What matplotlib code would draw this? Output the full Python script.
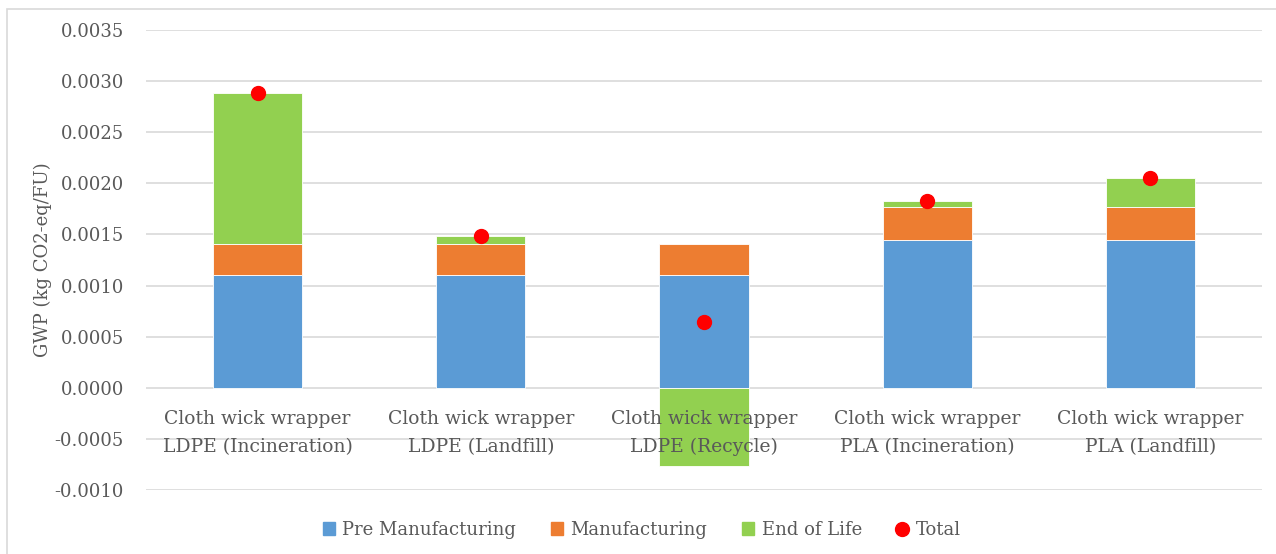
import numpy as np
import matplotlib.pyplot as plt
from matplotlib.patches import Patch, Rectangle
from matplotlib.lines import Line2D

categories = ['Cloth wick wrapper\nLDPE (Incineration)', 'Cloth wick wrapper\nLDPE (Landfill)',
              'Cloth wick wrapper\nLDPE (Recycle)', 'Cloth wick wrapper\nPLA (Incineration)',
              'Cloth wick wrapper\nPLA (Landfill)']
pre_manufacturing = [0.00110, 0.00110, 0.00110, 0.00145, 0.00145]
manufacturing = [0.00031, 0.00031, 0.00031, 0.00032, 0.00032]
end_of_life = [0.00147, 0.00007, -0.00077, 0.00006, 0.00028]
total = [0.00288, 0.00148, 0.00064, 0.00183, 0.00205]

plt.rcParams['font.family'] = ['DejaVu Serif']
txt = '#595959'
c_pre, c_man, c_eol, c_tot = '#5B9BD5', '#ED7D31', '#92D050', '#FF0000'

fig = plt.figure(figsize=(12.76, 5.54), dpi=100)
ax = fig.add_axes([146/1276, 64/554, 1116/1276, 460/554])

x = np.arange(len(categories))
w = 0.4
pre = np.array(pre_manufacturing)
man = np.array(manufacturing)
eol = np.array(end_of_life)
ax.bar(x, pre, w, color=c_pre, edgecolor='white', linewidth=0.6, zorder=2)
ax.bar(x, man, w, bottom=pre, color=c_man, edgecolor='white', linewidth=0.6, zorder=2)
# negative end of life values hang below zero
eol_bottom = np.where(eol >= 0, pre + man, 0)
ax.bar(x, eol, w, bottom=eol_bottom, color=c_eol, edgecolor='white', linewidth=0.6, zorder=2)
ax.plot(x, total, 'o', color=c_tot, markersize=10, zorder=4)

ax.set_xlim(-0.5, len(categories) - 0.5)
ax.set_ylim(-0.0010, 0.0035)
yt = np.arange(-0.0010, 0.00351, 0.0005)
ax.set_yticks(yt)
ax.set_yticklabels(['%.4f' % v for v in yt])
ax.grid(axis='y', color='#D9D9D9', linewidth=1.2, zorder=0)
for s in ax.spines.values():
    s.set_visible(False)
ax.set_xticks([])
ax.tick_params(axis='y', length=0, pad=16, labelsize=13, labelcolor=txt)
ax.set_ylabel('GWP (kg CO2-eq/FU)', fontsize=13, color=txt, labelpad=2)

# category labels sit just under the zero line, on top of the bars
for xi, lab in zip(x, categories):
    ax.annotate(lab, (xi, 0), xytext=(0, -16), textcoords='offset points',
                ha='center', va='top', fontsize=13.5, color=txt,
                linespacing=1.7, zorder=5)

handles = [Patch(color=c_pre), Patch(color=c_man), Patch(color=c_eol),
           Line2D([], [], marker='o', color=c_tot, linestyle='none', markersize=10)]
fig.legend(handles, ['Pre Manufacturing', 'Manufacturing', 'End of Life', 'Total'],
           loc='center', bbox_to_anchor=(0.503, 24/554), ncol=4, frameon=False,
           fontsize=13, labelcolor=txt, handlelength=0.7, handleheight=0.7,
           handletextpad=0.4, columnspacing=1.9)

fig.patches.append(Rectangle((7/1276, -0.1), 1.2, (545/554) + 0.1, transform=fig.transFigure,
                             fill=False, edgecolor='#D9D9D9', linewidth=1.2))

fig.savefig('out.png', dpi=100)
